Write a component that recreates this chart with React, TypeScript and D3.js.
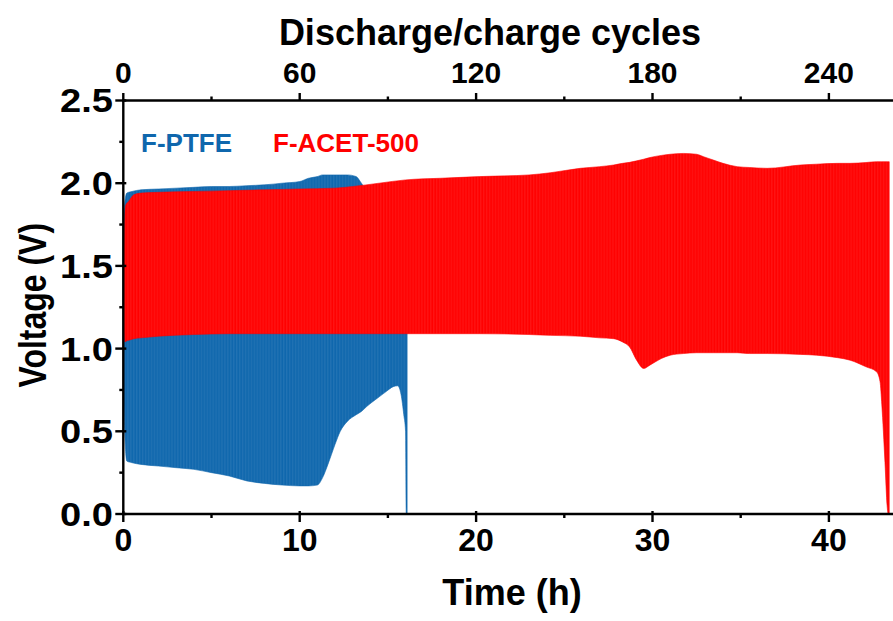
import React from "react";
import * as d3 from "d3";

// ---- Data ----
const timeTicks = [0, 10, 20, 30, 40];
const timeMinorTicks = [5, 15, 25, 35];
const cycleTicks = [0, 60, 120, 180, 240];
const cycleMinorTicks = [30, 90, 150, 210];
const voltTicks = [0, 0.5, 1.0, 1.5, 2.0, 2.5];
const voltMinorTicks = [0.25, 0.75, 1.25, 1.75, 2.25];
const cyclesPerHour = 6;

// F-PTFE envelope (time h, lower V, upper V)
const ptfeTime = [0, 0.08, 0.2, 0.5, 1, 2, 3, 4, 5, 6, 7, 8, 9, 10, 10.5, 11, 11.3, 11.6, 12.0, 12.3, 12.7, 13.2, 13.5, 13.8, 14.4, 14.9, 15.3, 15.55, 15.75, 15.9, 16.0, 16.04, 16.09];
const ptfeLower = [1.0, 0.5, 0.32, 0.31, 0.3, 0.29, 0.28, 0.27, 0.25, 0.23, 0.2, 0.185, 0.175, 0.17, 0.17, 0.175, 0.22, 0.3, 0.42, 0.5, 0.56, 0.6, 0.62, 0.65, 0.7, 0.74, 0.77, 0.775, 0.72, 0.6, 0.5, 0.0, 0.0];
const ptfeUpper = [1.72, 1.88, 1.94, 1.95, 1.96, 1.965, 1.97, 1.975, 1.98, 1.98, 1.985, 1.99, 2.0, 2.01, 2.03, 2.04, 2.05, 2.05, 2.05, 2.05, 2.05, 2.04, 2.0, 1.96, 1.96, 1.96, 1.96, 1.96, 1.96, 1.96, 1.96, 1.96, 1.96];

// F-ACET-500 envelope
const acetTime = [0, 0.1, 0.15, 0.3, 0.6, 1, 2, 4, 6, 8, 10, 12, 13, 14.5, 16, 18, 20.2, 23, 24.2, 25.9, 27.0, 27.8, 28.3, 28.7, 29.1, 29.5, 29.85, 30.5, 31.0, 31.75, 32.5, 32.9, 33.45, 34.0, 34.8, 35.5, 36.5, 38.4, 39.3, 40.5, 41.2, 42.1, 42.7, 42.9, 43.0, 43.18, 43.3, 43.36, 43.42];
const acetLower = [1.18, 1.04, 1.045, 1.05, 1.06, 1.065, 1.075, 1.085, 1.09, 1.09, 1.09, 1.09, 1.09, 1.09, 1.09, 1.09, 1.09, 1.085, 1.08, 1.075, 1.065, 1.06, 1.04, 1.01, 0.93, 0.88, 0.9, 0.94, 0.96, 0.97, 0.975, 0.975, 0.975, 0.975, 0.975, 0.97, 0.97, 0.965, 0.96, 0.945, 0.93, 0.89, 0.86, 0.8, 0.66, 0.31, 0.05, 0.0, 0.0];
const acetUpper = [1.2, 1.84, 1.87, 1.89, 1.93, 1.94, 1.945, 1.95, 1.955, 1.96, 1.965, 1.97, 1.98, 2.0, 2.02, 2.03, 2.04, 2.05, 2.063, 2.09, 2.1, 2.11, 2.12, 2.126, 2.135, 2.145, 2.155, 2.168, 2.175, 2.18, 2.175, 2.16, 2.14, 2.12, 2.1, 2.095, 2.09, 2.11, 2.115, 2.12, 2.12, 2.125, 2.13, 2.13, 2.13, 2.13, 2.13, 2.13, 2.13];

const seriesNames = ["F-PTFE", "F-ACET-500"];
const seriesColors = ["#0f67ad", "#ff0000"];

// ---- Layout ----
const W = 893;
const H = 621;
const left = 123.3;
const right = 893;
const top = 100.5;
const bottom = 514;
const FONT = "'Liberation Sans', Arial, Helvetica, sans-serif";

export default function App() {
  const x = d3.scaleLinear().domain([0, (right - left) / 17.64]).range([left, right]);
  const xc = d3.scaleLinear().domain([0, ((right - left) / 17.64) * cyclesPerHour]).range([left, right]);
  const y = d3.scaleLinear().domain([0, 2.5]).range([bottom, top]);

  const mk = (t: number[], lo: number[], hi: number[]) =>
    t.map((tt, i) => ({ t: tt, lo: lo[i], hi: hi[i] }));
  const area = d3
    .area<{ t: number; lo: number; hi: number }>()
    .x((d) => x(d.t))
    .y0((d) => y(d.lo))
    .y1((d) => y(d.hi))
    .curve(d3.curveMonotoneX);

  const ptfe = mk(ptfeTime, ptfeLower, ptfeUpper);
  const acet = mk(acetTime, acetLower, acetUpper);
  const cycW = x(1 / cyclesPerHour) - x(0);

  const tickStyle = { stroke: "#000", strokeWidth: 2.4 };

  return (
    <svg width={W} height={H} style={{ position: "absolute", left: 0, top: 0, background: "#fff" }} fontFamily={FONT}>
      <defs>
        {seriesColors.map((c, i) => (
          <pattern key={i} id={`pat${i}`} patternUnits="userSpaceOnUse" width={cycW} height={10} x={left}>
            <rect width={cycW} height={10} fill={c} />
            <rect x={cycW * 0.5} width={0.7} height={10} fill="#fff" opacity={0.15} />
          </pattern>
        ))}
      </defs>

      <path d={area(ptfe) || ""} fill="url(#pat0)" stroke={seriesColors[0]} strokeWidth={0.6} />
      <path d={area(acet) || ""} fill="url(#pat1)" stroke={seriesColors[1]} strokeWidth={0.6} />

      {/* axes lines */}
      <line x1={left} x2={left} y1={top} y2={bottom} {...tickStyle} />
      <line x1={left - 1} x2={right} y1={bottom} y2={bottom} {...tickStyle} />
      <line x1={left - 1} x2={right} y1={top} y2={top} {...tickStyle} />

      {/* bottom ticks */}
      {timeTicks.map((t) => (
        <g key={`bt${t}`}>
          <line x1={x(t)} x2={x(t)} y1={bottom - 3} y2={bottom + 8} {...tickStyle} />
          <text x={x(t)} y={551} textAnchor="middle" fontSize={32} fontWeight="bold">{t}</text>
        </g>
      ))}
      {timeMinorTicks.map((t) => (
        <line key={`bm${t}`} x1={x(t)} x2={x(t)} y1={bottom} y2={bottom + 4} {...tickStyle} />
      ))}

      {/* top ticks */}
      {cycleTicks.map((c) => (
        <g key={`tt${c}`}>
          <line x1={xc(c)} x2={xc(c)} y1={top} y2={top - 7.5} {...tickStyle} />
          <text x={xc(c)} y={83} textAnchor="middle" fontSize={30} fontWeight="bold">{c}</text>
        </g>
      ))}
      {cycleMinorTicks.map((c) => (
        <line key={`tm${c}`} x1={xc(c)} x2={xc(c)} y1={top} y2={top - 4} {...tickStyle} />
      ))}

      {/* left ticks */}
      {voltTicks.map((v) => (
        <g key={`lt${v}`}>
          <line x1={left - 8} x2={left + 3} y1={y(v)} y2={y(v)} {...tickStyle} />
          <text x={113} y={y(v) + 12} textAnchor="end" fontSize={34} fontWeight="bold"
            transform={`translate(113,0) scale(1.12,1) translate(-113,0)`}>{v.toFixed(1)}</text>
        </g>
      ))}
      {voltMinorTicks.map((v) => (
        <line key={`lm${v}`} x1={left - 4} x2={left} y1={y(v)} y2={y(v)} {...tickStyle} />
      ))}

      {/* titles */}
      <text x={512} y={605} textAnchor="middle" fontSize={36} fontWeight="bold">Time (h)</text>
      <text x={490} y={45} textAnchor="middle" fontSize={36} fontWeight="bold">Discharge/charge cycles</text>
      <text transform={`translate(46,${(top + bottom) / 2 - 2}) scale(1.2,1) rotate(-90)`} textAnchor="middle" fontSize={32} fontWeight="bold">Voltage (V)</text>

      {/* legend */}
      <text x={141} y={152} fontSize={26} fontWeight="bold" fill={seriesColors[0]}>{seriesNames[0]}</text>
      <text x={273} y={152} fontSize={26} fontWeight="bold" fill={seriesColors[1]}>{seriesNames[1]}</text>
    </svg>
  );
}
